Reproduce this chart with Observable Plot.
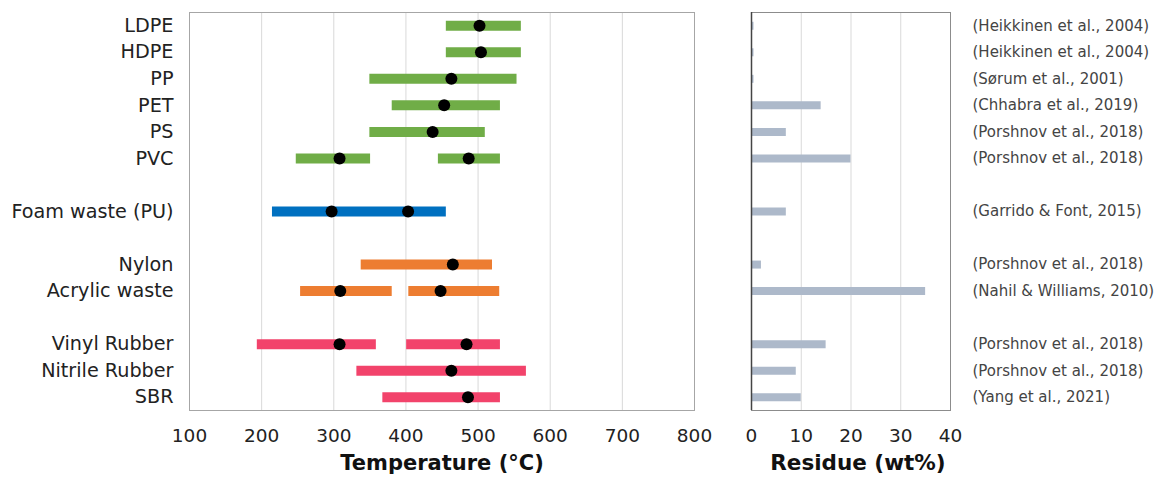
<!DOCTYPE html>
<html>
<head>
<meta charset="utf-8">
<script src="https://cdn.jsdelivr.net/npm/d3@7"></script>
<script src="https://cdn.jsdelivr.net/npm/@observablehq/plot@0.6"></script>
<style>
  html, body { margin: 0; padding: 0; background: #fff; }
  #wrap { position: relative; width: 1161px; height: 480px; font-family: "DejaVu Sans", Verdana, sans-serif; }
  #left, #right { position: absolute; top: 0; }
  #left { left: 0; }
  #right { left: 722px; }
</style>
</head>
<body>
<div id="wrap"><div id="left"></div><div id="right"></div></div>
<script>
// Materials and their row slots (gaps between groups)
const materials = ["LDPE", "HDPE", "PP", "PET", "PS", "PVC", "Foam waste (PU)", "Nylon", "Acrylic waste", "Vinyl Rubber", "Nitrile Rubber", "SBR"];
const slots = [0, 1, 2, 3, 4, 5, 7, 9, 10, 12, 13, 14];
const groups = ["plastic", "plastic", "plastic", "plastic", "plastic", "plastic", "foam", "textile", "textile", "rubber", "rubber", "rubber"];
const groupNames = ["plastic", "foam", "textile", "rubber"];
const groupColors = ["#70AD47", "#0070C0", "#ED7D31", "#F2436B"];

// Decomposition temperature ranges (°C)
const segMaterial = ["LDPE", "HDPE", "PP", "PET", "PS", "PVC", "PVC", "Foam waste (PU)", "Nylon", "Acrylic waste", "Acrylic waste", "Vinyl Rubber", "Vinyl Rubber", "Nitrile Rubber", "SBR"];
const segStart = [456, 456, 350, 381, 350, 248, 445, 215, 338, 254, 404, 194, 401, 332, 368];
const segEnd = [560, 560, 554, 531, 510, 351, 531, 456, 520, 381, 530, 359, 531, 567, 531];

// Peak temperatures (°C)
const peakMaterial = ["LDPE", "HDPE", "PP", "PET", "PS", "PVC", "PVC", "Foam waste (PU)", "Foam waste (PU)", "Nylon", "Acrylic waste", "Acrylic waste", "Vinyl Rubber", "Vinyl Rubber", "Nitrile Rubber", "SBR"];
const peakTemp = [502, 504, 463, 453, 437, 308, 487, 297, 403, 465, 309, 448, 308, 484, 463, 486];

// Residue (wt%)
const residue = [0.5, 0.5, 0.5, 14, 7, 20, 7, 2, 35, 15, 9, 10];

// References
const references = ["(Heikkinen et al., 2004)", "(Heikkinen et al., 2004)", "(Sørum et al., 2001)", "(Chhabra et al., 2019)", "(Porshnov et al., 2018)", "(Porshnov et al., 2018)", "(Garrido & Font, 2015)", "(Porshnov et al., 2018)", "(Nahil & Williams, 2010)", "(Porshnov et al., 2018)", "(Porshnov et al., 2018)", "(Yang et al., 2021)"];

const tempTicks = [100, 200, 300, 400, 500, 600, 700, 800];
const residueTicks = [0, 10, 20, 30, 40];

// Derived tables
const slotOf = new Map(materials.map((m, i) => [m, slots[i]]));
const groupOf = new Map(materials.map((m, i) => [m, groups[i]]));
const segs = segMaterial.map((m, i) => ({material: m, y: slotOf.get(m), group: groupOf.get(m), x1: segStart[i], x2: segEnd[i]}));
const peaks = peakMaterial.map((m, i) => ({material: m, y: slotOf.get(m), x: peakTemp[i]}));
const rows = materials.map((m, i) => ({material: m, y: slots[i], residue: residue[i], ref: references[i]}));

const yScale = {type: "linear", domain: [-0.5, 14.5], reverse: true};
const HEIGHT = 480, MT = 12, MB = 70;

const left = Plot.plot({
  width: 722, height: HEIGHT,
  marginLeft: 189, marginRight: 28, marginTop: MT, marginBottom: MB,
  style: {fontFamily: "DejaVu Sans, Verdana, sans-serif", background: "white"},
  x: {domain: [100, 800]},
  y: yScale,
  color: {domain: groupNames, range: groupColors},
  marks: [
    Plot.gridX(tempTicks, {stroke: "#d9d9d9", strokeOpacity: 1}),
    Plot.frame({stroke: "#a6a6a6"}),
    Plot.ruleY(segs, {x1: "x1", x2: "x2", y: "y", stroke: "group", strokeWidth: 10}),
    Plot.dot(peaks, {x: "x", y: "y", r: 6, fill: "black", stroke: "none"}),
    Plot.axisX({ticks: tempTicks, tickSize: 0, tickPadding: 18, fontSize: 18.5, fill: "#222", label: null}),
    Plot.axisY({ticks: slots, tickFormat: d => materials[slots.indexOf(d)], tickSize: 0, tickPadding: 16, fontSize: 19.2, fill: "#222", label: null}),
    Plot.text(["Temperature (°C)"], {frameAnchor: "bottom", dy: 59, fontSize: 21, fontWeight: "bold", fill: "#111"})
  ]
});
document.getElementById("left").appendChild(left);

const right = Plot.plot({
  width: 439, height: HEIGHT,
  marginLeft: 29, marginRight: 211, marginTop: MT, marginBottom: MB,
  style: {fontFamily: "DejaVu Sans, Verdana, sans-serif", background: "white", overflow: "visible"},
  x: {domain: [0, 40]},
  y: yScale,
  marks: [
    Plot.gridX(residueTicks, {stroke: "#d9d9d9", strokeOpacity: 1}),
    Plot.frame({stroke: "#8c8c8c"}),
    Plot.ruleY(rows, {x1: 0, x2: "residue", y: "y", stroke: "#ADB9CA", strokeWidth: 8}),
    Plot.ruleX([0], {stroke: "#444", strokeWidth: 1.5}),
    Plot.axisX({ticks: residueTicks, tickSize: 0, tickPadding: 18, fontSize: 18.5, fill: "#222", label: null}),
    Plot.axisY({ticks: [], label: null}),
    Plot.text(rows, {x: 40, y: "y", text: "ref", dx: 22, textAnchor: "start", fontSize: 15, fill: "#444"}),
    Plot.text(["Residue (wt%)"], {frameAnchor: "bottom", dy: 59, dx: 7, fontSize: 21.5, fontWeight: "bold", fill: "#111"})
  ]
});
document.getElementById("right").appendChild(right);
</script>
</body>
</html>
